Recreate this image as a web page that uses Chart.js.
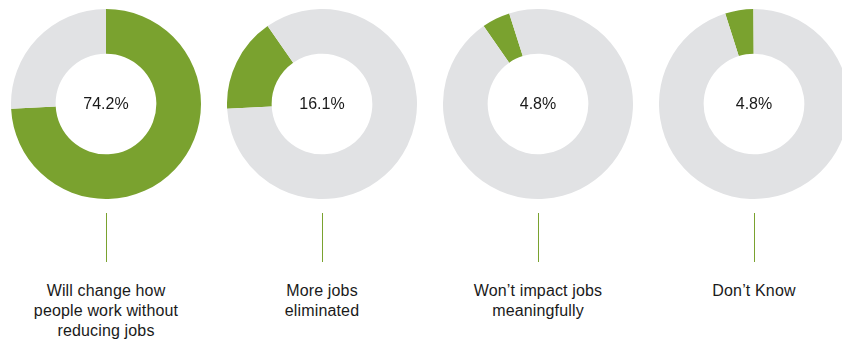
<!DOCTYPE html>
<html>
<head>
<meta charset="utf-8">
<script src="https://cdn.jsdelivr.net/npm/chart.js@4/dist/chart.umd.min.js"></script>
<style>
  html, body { margin: 0; padding: 0; background: #fff; }
  #wrap { position: relative; width: 842px; height: 341px; overflow: hidden; font-family: "Liberation Sans", Arial, Helvetica, sans-serif; }
  .ring { position: absolute; top: 9px; width: 190px; height: 190px; }
  .stem { position: absolute; top: 213px; width: 1px; height: 49px; background: #7aa22f; }
  .label { position: absolute; top: 281px; width: 200px; text-align: center; font-size: 16px; letter-spacing: 0.15px; line-height: 20px; color: #1a1a1a; }
</style>
</head>
<body>
<div id="wrap"></div>
<script>
const categories = [
  ["Will change how", "people work without", "reducing jobs"],
  ["More jobs", "eliminated"],
  ["Won\u2019t impact jobs", "meaningfully"],
  ["Don\u2019t Know"]
];
const shares = [74.2, 16.1, 4.8, 4.8];
const centers = [106, 322, 538, 754];

const green = '#7aa22f';
const grey = '#e1e2e4';

// prints the share in the hole of each ring
const centerText = {
  id: 'centerText',
  afterDraw(chart) {
    const meta = chart.getDatasetMeta(0).data[0];
    const ctx = chart.ctx;
    ctx.save();
    ctx.font = '16px "Liberation Sans", Arial, sans-serif';
    ctx.fillStyle = '#1a1a1a';
    ctx.textAlign = 'center';
    ctx.textBaseline = 'middle';
    ctx.fillText(chart.data.datasets[0].data[0].toFixed(1) + '%', meta.x, meta.y + 1);
    ctx.restore();
  }
};

const wrap = document.getElementById('wrap');
let start = 0;

shares.forEach(function (v, i) {
  const box = document.createElement('div');
  box.className = 'ring';
  box.style.left = (centers[i] - 95) + 'px';
  const canvas = document.createElement('canvas');
  box.appendChild(canvas);
  wrap.appendChild(box);

  const stem = document.createElement('div');
  stem.className = 'stem';
  stem.style.left = centers[i] + 'px';
  wrap.appendChild(stem);

  const label = document.createElement('div');
  label.className = 'label';
  label.style.left = (centers[i] - 100) + 'px';
  label.innerHTML = categories[i].join('<br>');
  wrap.appendChild(label);

  new Chart(canvas, {
    type: 'doughnut',
    data: {
      labels: ['share', 'rest'],
      datasets: [{
        data: [v, +(100 - v).toFixed(1)],
        backgroundColor: [green, grey],
        borderWidth: 0
      }]
    },
    options: {
      responsive: true,
      maintainAspectRatio: false,
      animation: false,
      cutout: '53%',
      rotation: start * 3.6,
      plugins: { legend: { display: false }, tooltip: { enabled: false } }
    },
    plugins: [centerText]
  });

  // each ring picks up where the previous one stopped
  start += v;
});
</script>
</body>
</html>
